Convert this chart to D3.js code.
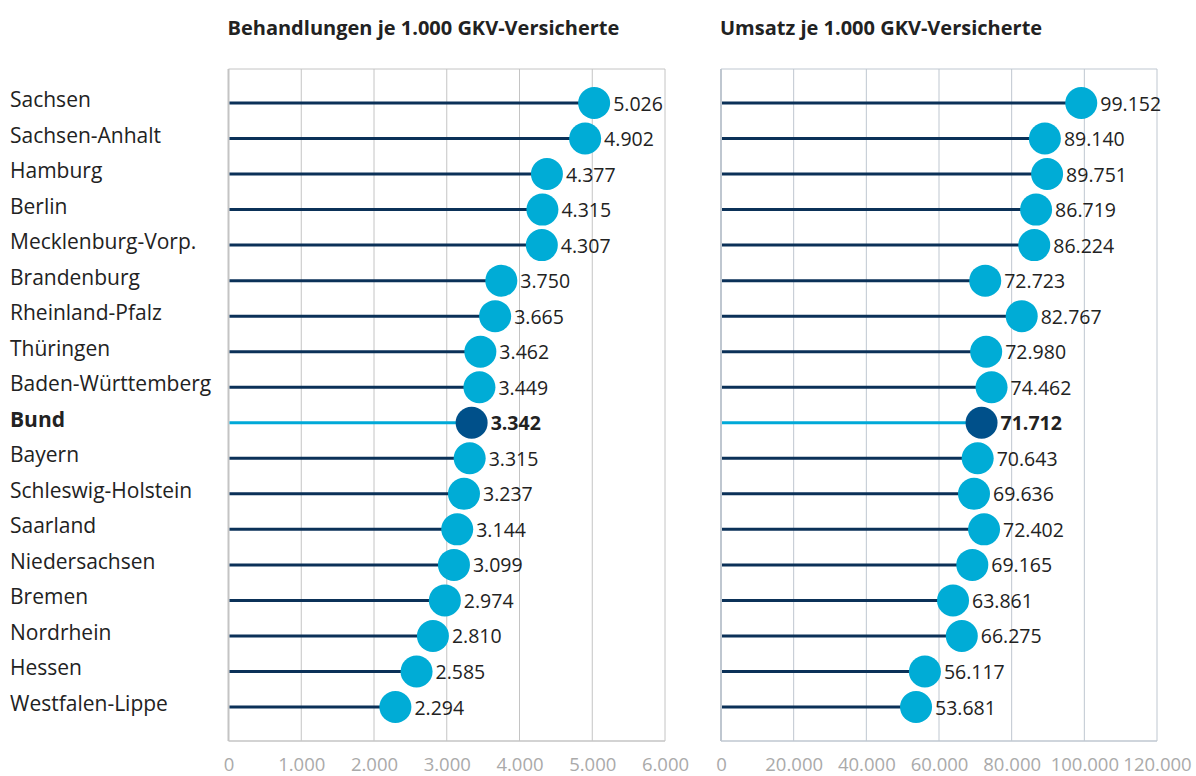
<!DOCTYPE html>
<html>
<head>
<meta charset="utf-8">
<script src="https://cdn.jsdelivr.net/npm/d3@7"></script>
<style>
  body { margin: 0; background: #fff; }
  svg { font-family: "Open Sans", Lato, sans-serif; }
</style>
</head>
<body>
<script>
// Daten
const regions = ["Sachsen", "Sachsen-Anhalt", "Hamburg", "Berlin", "Mecklenburg-Vorp.", "Brandenburg",
  "Rheinland-Pfalz", "Thüringen", "Baden-Württemberg", "Bund", "Bayern", "Schleswig-Holstein",
  "Saarland", "Niedersachsen", "Bremen", "Nordrhein", "Hessen", "Westfalen-Lippe"];
const behandlungen = [5026, 4902, 4377, 4315, 4307, 3750, 3665, 3462, 3449, 3342, 3315, 3237,
  3144, 3099, 2974, 2810, 2585, 2294];
const umsatz = [99152, 89140, 89751, 86719, 86224, 72723, 82767, 72980, 74462, 71712, 70643, 69636,
  72402, 69165, 63861, 66275, 56117, 53681];
const ticksLeft = [0, 1000, 2000, 3000, 4000, 5000, 6000];
const ticksRight = [0, 20000, 40000, 60000, 80000, 100000, 120000];
const highlight = "Bund";

const width = 1196, height = 776;
const plotTop = 69, plotBottom = 741;

const fmt = v => d3.format(",")(v).replace(/,/g, ".");

const svg = d3.select("body").append("svg")
  .attr("width", width).attr("height", height);

const y = d3.scalePoint().domain(regions).range([103, 707]);

// Zeilenbeschriftung
svg.append("g").selectAll("text")
  .data(regions)
  .join("text")
  .attr("x", 10)
  .attr("y", d => y(d) - 4)
  .attr("dominant-baseline", "central")
  .style("font-size", "21px")
  .style("font-weight", d => d === highlight ? "bold" : "normal")
  .style("fill", "#222")
  .text(d => d);

function panel(values, ticks, x0, x1, title, gridColor) {
  const x = d3.scaleLinear().domain([0, ticks[ticks.length - 1]]).range([x0, x1]);
  const g = svg.append("g");

  g.append("text")
    .attr("x", x0 - 1).attr("y", 27)
    .attr("dominant-baseline", "central")
    .style("font-size", "20px").style("font-weight", "bold").style("fill", "#222")
    .text(title);

  // Gitter
  g.append("g").selectAll("line")
    .data(ticks)
    .join("line")
    .attr("x1", d => x(d)).attr("x2", d => x(d))
    .attr("y1", plotTop).attr("y2", plotBottom)
    .attr("stroke", gridColor).attr("stroke-width", d => d === 0 ? 2 : 1);
  g.append("line").attr("x1", x0).attr("x2", x1).attr("y1", plotTop).attr("y2", plotTop)
    .attr("stroke", gridColor);
  g.append("line").attr("x1", x0).attr("x2", x1).attr("y1", plotBottom).attr("y2", plotBottom)
    .attr("stroke", gridColor).attr("stroke-width", 1.5);

  // Achse
  const axis = g.append("g").attr("transform", `translate(0,${plotBottom})`)
    .call(d3.axisBottom(x).tickValues(ticks).tickFormat(fmt).tickSize(0).tickPadding(17));
  axis.select(".domain").remove();
  axis.selectAll("text").style("font-size", "18.5px").style("fill", "#aaa")
    .style("font-family", "'Open Sans', Lato, sans-serif");

  const data = regions.map((r, i) => ({ r, v: values[i] }));

  g.append("g").selectAll("line")
    .data(data)
    .join("line")
    .attr("x1", x0 + 1).attr("x2", d => x(d.v))
    .attr("y1", d => y(d.r)).attr("y2", d => y(d.r))
    .attr("stroke", d => d.r === highlight ? "#00a9d8" : "#0b3158")
    .attr("stroke-width", 3);

  g.append("g").selectAll("circle")
    .data(data)
    .join("circle")
    .attr("cx", d => x(d.v)).attr("cy", d => y(d.r))
    .attr("r", 16)
    .attr("fill", d => d.r === highlight ? "#00508a" : "#00acd6");

  g.append("g").selectAll("text")
    .data(data)
    .join("text")
    .attr("x", d => x(d.v) + 19).attr("y", d => y(d.r))
    .attr("dominant-baseline", "central")
    .style("font-size", "19.5px")
    .style("font-weight", d => d.r === highlight ? "bold" : "normal")
    .style("fill", "#222")
    .text(d => fmt(d.v));
}

panel(behandlungen, ticksLeft, 228.5, 665, "Behandlungen je 1.000 GKV-Versicherte", "#c4c4c4");
panel(umsatz, ticksRight, 721, 1157, "Umsatz je 1.000 GKV-Versicherte", "#bfc7d0");
</script>
</body>
</html>
